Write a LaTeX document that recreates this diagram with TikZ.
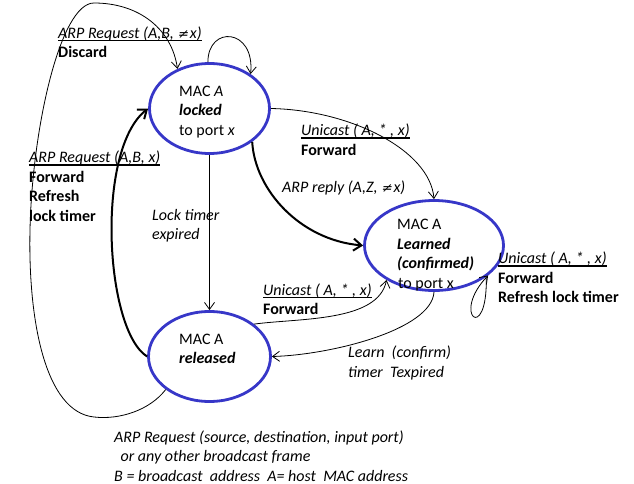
\documentclass[tikz,border=0pt]{standalone}
\usepackage{fontspec}
\setmainfont{Carlito}
\newfontfamily\neqfont[FakeSlant=0.2]{DejaVu Sans}
\usetikzlibrary{shapes.geometric,arrows.meta}
\definecolor{macblue}{RGB}{55,55,200}
\newcommand{\ulbox}[1]{\setbox0\hbox{#1}\rlap{\rule[-3pt]{\wd0}{1.4pt}}\box0}
\newcommand{\nex}{{\neqfont\fontsize{13}{15}\selectfont ≠}\kern1.5pt x}

\begin{document}
\begin{tikzpicture}[x=1pt,y=-1pt,
  state/.style={draw=macblue,line width=2.8pt,ellipse,inner sep=0pt,minimum height=90pt},
  txt/.style={anchor=west,align=left,inner sep=0pt,font=\fontsize{16}{19.5}\selectfont},
  move/.style={line width=0.8pt,-{Straight Barb[length=7pt,width=10pt]}},
  bigmove/.style={line width=2pt,-{Straight Barb[length=8pt,width=12pt]}}]
\useasboundingbox (0,0) rectangle (634,484);
\node[state,minimum width=120pt] (locked) at (209.5,108.5) {};
\node[state,minimum width=139pt] (learned) at (434,245.5) {};
\node[state,minimum width=122pt] (released) at (209.5,356.5) {};
\node[txt] (lockedtxt) at (179,112) {MAC \textit{A}\\ \textbf{\textit{locked}}\\ to port \textit{x}};
\node[txt] (learnedtxt) at (397,255) {MAC A\\ \textbf{\textit{Learned}}\\ \textbf{\textit{(confirmed)}}\\ \hspace{1pt}to port x};
\node[txt] (releasedtxt) at (179,349) {MAC A\\ \textbf{\textit{released}}};
\node[txt] (discard) at (58,42) {\ulbox{\textit{ARP Request (A,B, \nex)}}\\ \textbf{Discard}};
\node[txt] (refresh) at (29,186) {\ulbox{\textit{ARP Request (A,B, x)}}\\ \textbf{Forward}\\ \textbf{Refresh}\\ \textbf{lock timer}};
\node[txt] (expired) at (152,225.5) {\textit{Lock timer}\\ \textit{expired}};
\node[txt] (unitop) at (301,139.5) {\ulbox{\textit{Unicast ( A, * , x)}}\\ \textbf{Forward}};
\node[txt] (reply) at (282,188) {\textit{ARP reply (A,Z, \nex)}};
\node[txt] (uniloop) at (498,277.5) {\ulbox{\textit{Unicast ( A, * , x)}}\\ \textbf{Forward}\\ \textbf{Refresh lock timer}};
\node[txt] (unirel) at (263,299) {\ulbox{\textit{Unicast ( A, * , x)}}\\ \textbf{Forward}};
\node[txt] (learn) at (348,363) {\textit{Learn\ \ (confirm)}\\ \textit{timer\ \ Texpired}};
\node[txt] (note) at (114,456) {\textit{ARP Request (source, destination, input port)}\\ \hspace{0.4em}\textit{or any other broadcast frame}\\ \textit{B = broadcast\ \ address\ \ A= host\ \ MAC address}};
\draw[move] (locked.92) .. controls (208,25) and (255,28) .. (locked.40);
\draw[move] (released.217) .. controls (150,410) and (120,420) .. (94,417) .. controls (45,412) and (28,320) .. (30,230) .. controls (32,130) and (60,3) .. (94,3) .. controls (140,3) and (172,30) .. (locked.129);
\draw[bigmove] (released.west) .. controls (105,330) and (95,150) .. (locked.west);
\draw[move] (locked.south) -- (released.north);
\draw[move] (locked.east) .. controls (350,110) and (430,150) .. (learned.north);
\draw[bigmove] (locked.322) .. controls (255,190) and (300,240) .. (learned.west);
\draw[move] (released.36) .. controls (300,318) and (378,322) .. (learned.216);
\draw[move] (learned.south) .. controls (432,330) and (330,355) .. (released.east);
\draw[move] (learned.329) .. controls (488,345) and (450,315) .. (learned.331);
\end{tikzpicture}
\end{document}
